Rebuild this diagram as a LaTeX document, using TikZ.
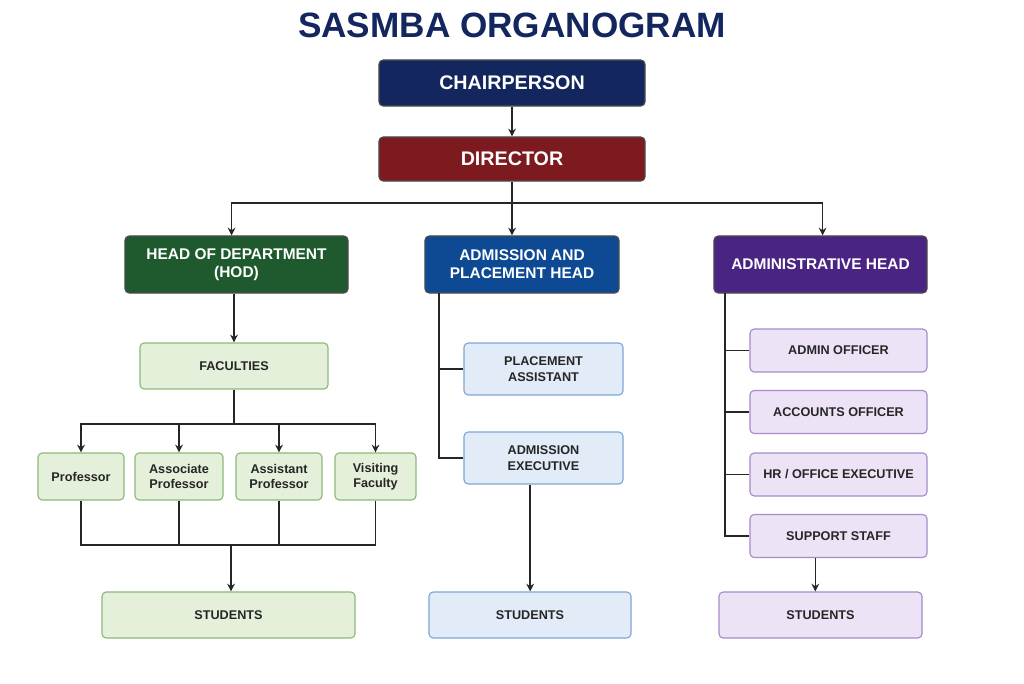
\documentclass[tikz,border=0pt]{standalone}
\usepackage{fontspec}
\setmainfont{Liberation Sans}
\usetikzlibrary{arrows.meta}
\definecolor{navyBox}{HTML}{13275E}
\definecolor{redBox}{HTML}{7D1A1F}
\definecolor{greenBox}{HTML}{1F5A2E}
\definecolor{blueBox}{HTML}{0E4A94}
\definecolor{violetBox}{HTML}{4A2482}
\definecolor{greenLight}{HTML}{E4F0DA}
\definecolor{greenEdge}{HTML}{8DB87A}
\definecolor{blueLight}{HTML}{E1ECF8}
\definecolor{blueEdge}{HTML}{7FA6D6}
\definecolor{violetLight}{HTML}{ECE4F6}
\definecolor{violetEdge}{HTML}{A58CC8}
\definecolor{titleBlue}{HTML}{13275E}
\tikzset{
  head/.style={draw=black!70, line width=0.8pt, rounded corners=3pt, text=white,
    font=\bfseries\fontsize{11}{13}\selectfont, align=center, inner sep=2pt},
  top/.style={head, font=\bfseries\fontsize{14}{16}\selectfont},
  leaf/.style={draw, line width=0.8pt, rounded corners=3pt, text=black!85,
    font=\bfseries\fontsize{9}{11}\selectfont, align=center, inner sep=2pt},
  link/.style={line width=1.1pt, black!85},
  arr/.style={link, -{Stealth[length=5.5pt,width=5.5pt]}}
}
\begin{document}
\begin{tikzpicture}[x=0.025cm, y=-0.025cm]
        \useasboundingbox (0,0) rectangle (1024,683);
        \fill[white] (0,0) rectangle (1024,683);

        % title
        \node[text=titleBlue, font=\bfseries\fontsize{25}{28}\selectfont] (title) at (512,25) {SASMBA ORGANOGRAM};

        % top of the chart
        \node[top, fill=navyBox, minimum width=6.65cm, minimum height=1.15cm] (chair) at (512,83) {CHAIRPERSON};
        \node[top, fill=redBox, minimum width=6.65cm, minimum height=1.1cm] (dir) at (512,159) {DIRECTOR};
        \draw[arr] (chair) -- (dir);

        % heads
        \node[head, fill=greenBox, minimum width=5.575cm, minimum height=1.425cm] (hod) at (236.5,264.5) {HEAD OF DEPARTMENT\\(HOD)};
        \node[head, fill=blueBox, minimum width=4.85cm, minimum height=1.425cm] (adm) at (522,264.5) {ADMISSION AND\\PLACEMENT HEAD};
        \node[head, fill=violetBox, minimum width=5.325cm, minimum height=1.425cm] (admin) at (820.5,264.5) {ADMINISTRATIVE HEAD};
        \coordinate (split) at (512,203);
        \draw[link] (dir) -- (split);
        \draw[arr] (split) -| ([xshift=-3.5]hod.north);
        \draw[arr] (split) -- (split |- adm.north);
        \draw[arr] (split) -| ([xshift=1.5]admin.north);

        % department column
        \node[leaf, fill=greenLight, draw=greenEdge, minimum width=4.7cm, minimum height=1.15cm] (fac) at (234,366) {FACULTIES};
        \draw[arr] (hod.south -| fac) -- (fac);
        \node[leaf, fill=greenLight, draw=greenEdge, minimum width=2.15cm, minimum height=1.175cm] (prof) at (81,476.5) {Professor};
        \node[leaf, fill=greenLight, draw=greenEdge, minimum width=2.2cm, minimum height=1.175cm] (assoc) at (179,476.5) {Associate\\Professor};
        \node[leaf, fill=greenLight, draw=greenEdge, minimum width=2.15cm, minimum height=1.175cm] (asst) at (279,476.5) {Assistant\\Professor};
        \node[leaf, fill=greenLight, draw=greenEdge, minimum width=2.025cm, minimum height=1.175cm] (visit) at (375.5,476.5) {Visiting\\Faculty};
        \coordinate (fsplit) at (234,424);
        \draw[link] (fac) -- (fsplit);
        \foreach \n in {prof,assoc,asst,visit}
          \draw[arr] (fsplit) -| (\n.north);
        \node[leaf, fill=greenLight, draw=greenEdge, minimum width=6.325cm, minimum height=1.15cm] (stuL) at (228.5,615) {STUDENTS};
        \coordinate (fjoin) at (231,545);
        \foreach \n in {prof,assoc,asst,visit}
          \draw[link] (\n.south) |- (fjoin);
        \draw[arr] (fjoin) -- (fjoin |- stuL.north);

        % admission column
        \node[leaf, fill=blueLight, draw=blueEdge, minimum width=3.975cm, minimum height=1.3cm] (plac) at (543.5,369) {PLACEMENT\\ASSISTANT};
        \node[leaf, fill=blueLight, draw=blueEdge, minimum width=3.975cm, minimum height=1.3cm] (exec) at (543.5,458) {ADMISSION\\EXECUTIVE};
        \coordinate (mline) at (439,293);
        \draw[link] (mline) |- (plac.west);
        \draw[link] (mline) |- (exec.west);
        \node[leaf, fill=blueLight, draw=blueEdge, minimum width=5.05cm, minimum height=1.15cm] (stuM) at (530,615) {STUDENTS};
        \draw[arr] ([xshift=-9.5]exec.south) -- ([xshift=-9.5]exec.south |- stuM.north);

        % administrative column
        \node[leaf, fill=violetLight, draw=violetEdge, minimum width=4.425cm, minimum height=1.075cm] (offi) at (838.5,350.5) {ADMIN OFFICER};
        \node[leaf, fill=violetLight, draw=violetEdge, minimum width=4.425cm, minimum height=1.075cm] (acct) at (838.5,412) {ACCOUNTS OFFICER};
        \node[leaf, fill=violetLight, draw=violetEdge, minimum width=4.425cm, minimum height=1.075cm] (hr) at (838.5,474.5) {HR / OFFICE EXECUTIVE};
        \node[leaf, fill=violetLight, draw=violetEdge, minimum width=4.425cm, minimum height=1.075cm] (supp) at (838.5,536) {SUPPORT STAFF};
        \coordinate (rline) at (725,293);
        \foreach \n in {offi,acct,hr,supp}
          \draw[link] (rline) |- (\n.west);
        \node[leaf, fill=violetLight, draw=violetEdge, minimum width=5.075cm, minimum height=1.15cm] (stuR) at (820.5,615) {STUDENTS};
        \draw[arr] ([xshift=-16.5]supp.south) -- ([xshift=-16.5]supp.south |- stuR.north);
\end{tikzpicture}
\end{document}
